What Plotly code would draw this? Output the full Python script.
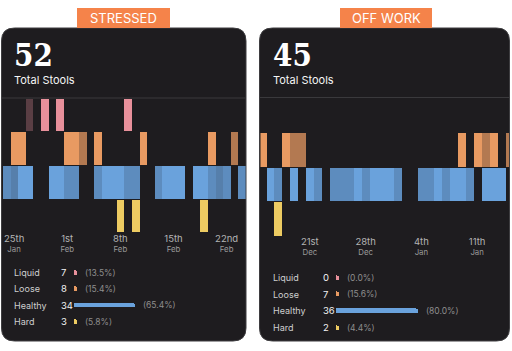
import plotly.graph_objects as go
import pandas as pd

W, H = 512, 351

# ---------------- data ----------------
CATEGORIES = ["Liquid", "Loose", "Healthy", "Hard"]
PANEL_TITLES = ["STRESSED", "OFF WORK"]
TOTALS = [52, 45]
LEFT_COUNTS = [7, 8, 34, 3]
RIGHT_COUNTS = [0, 7, 36, 2]

LEFT_START = "2021-01-24"
RIGHT_START = "2020-12-16"

# day offsets from the panel start date, and shade level (1 faint .. 4 full)
L_LIQUID_DAYS = [3, 5, 7, 16]
L_LIQUID_SHADE = [1, 4, 4, 4]
L_LOOSE_DAYS = [1, 2, 8, 9, 10, 12, 18, 27, 30]
L_LOOSE_SHADE = [4, 4, 4, 4, 2, 4, 4, 4, 2]
L_HEALTHY_DAYS = [0, 1, 2, 3, 6, 7, 8, 9, 12, 13, 14, 15, 16, 17, 20, 21, 22, 23, 25, 26, 27, 28, 29, 31]
L_HEALTHY_SHADE = [3, 2, 4, 4, 4, 4, 3, 3, 3, 4, 4, 4, 3, 3, 3, 4, 4, 4, 4, 4, 3, 2, 3, 3]
L_HARD_DAYS = [15, 17, 26]
L_HARD_SHADE = [4, 4, 4]

R_LIQUID_DAYS = []
R_LIQUID_SHADE = []
R_LOOSE_DAYS = [-1, 2, 3, 4, 24, 26, 27, 28, 30]
R_LOOSE_SHADE = [4, 4, 2, 2, 4, 4, 2, 4, 2]
R_HEALTHY_DAYS = [0, 1, 3, 5, 6, 8, 9, 10, 11, 12, 13, 14, 15, 16, 19, 20, 21, 22, 23, 24, 25, 27, 28, 29]
R_HEALTHY_SHADE = [4, 3, 4, 4, 3, 3, 3, 3, 4, 3, 4, 4, 4, 3, 3, 3, 4, 3, 4, 4, 3, 4, 4, 4]
R_HARD_DAYS = [1]
R_HARD_SHADE = [4]

LEFT_TICK_DATES = ["2021-01-25", "2021-02-01", "2021-02-08", "2021-02-15", "2021-02-22"]
LEFT_TICK_DAY = ["25th", "1st", "8th", "15th", "22nd"]
LEFT_TICK_MONTH = ["Jan", "Feb", "Feb", "Feb", "Feb"]
RIGHT_TICK_DATES = ["2020-12-21", "2020-12-28", "2021-01-04", "2021-01-11"]
RIGHT_TICK_DAY = ["21st", "28th", "4th", "11th"]
RIGHT_TICK_MONTH = ["Dec", "Dec", "Jan", "Jan"]

# ---------------- style ----------------
COLORS = {"Liquid": "#E8909B", "Loose": "#E89A62", "Healthy": "#6AA2DC", "Hard": "#EDCB62"}
SHADE_OPACITY = {1: 0.30, 2: 0.74, 3: 0.84, 4: 1.0}
ROW = {"Liquid": 3, "Loose": 2, "Healthy": 1, "Hard": 0}
PANEL_BG = "#1E1C1F"
ORANGE = "#F5834A"
FONT = "Inter"
SERIF = "DejaVu Serif Condensed, DejaVu Serif"


def px(x):
    return x / W


def py(y):
    return 1 - y / H


def rounded_rect(x0, y0, x1, y1, r):
    return " ".join([
        f"M {px(x0 + r)} {py(y0)}", f"L {px(x1 - r)} {py(y0)}",
        f"Q {px(x1)} {py(y0)} {px(x1)} {py(y0 + r)}", f"L {px(x1)} {py(y1 - r)}",
        f"Q {px(x1)} {py(y1)} {px(x1 - r)} {py(y1)}", f"L {px(x0 + r)} {py(y1)}",
        f"Q {px(x0)} {py(y1)} {px(x0)} {py(y1 - r)}", f"L {px(x0)} {py(y0 + r)}",
        f"Q {px(x0)} {py(y0)} {px(x0 + r)} {py(y0)}", "Z"])


fig = go.Figure()

DAY_MS = 86400000


def add_rows(start, series, xa, ya):
    t0 = pd.Timestamp(start)
    for cat, (days, shades) in series.items():
        if not days:
            continue
        xs = [t0 + pd.Timedelta(days=d, hours=12) for d in days]
        fig.add_trace(go.Bar(
            x=xs, y=[0.97] * len(days), base=[ROW[cat] - 0.485] * len(days),
            width=DAY_MS, xaxis=xa, yaxis=ya, showlegend=False, hoverinfo="skip",
            marker=dict(color=COLORS[cat], opacity=[SHADE_OPACITY[s] for s in shades],
                        line=dict(width=0))))


add_rows(LEFT_START, {
    "Liquid": (L_LIQUID_DAYS, L_LIQUID_SHADE), "Loose": (L_LOOSE_DAYS, L_LOOSE_SHADE),
    "Healthy": (L_HEALTHY_DAYS, L_HEALTHY_SHADE), "Hard": (L_HARD_DAYS, L_HARD_SHADE)}, "x", "y")
add_rows(RIGHT_START, {
    "Liquid": (R_LIQUID_DAYS, R_LIQUID_SHADE), "Loose": (R_LOOSE_DAYS, R_LOOSE_SHADE),
    "Healthy": (R_HEALTHY_DAYS, R_HEALTHY_SHADE), "Hard": (R_HARD_DAYS, R_HARD_SHADE)}, "x2", "y2")

# legend mini bars
annotations = []


def add_legend(counts, xa, ya, label_x, count_x, full):
    total = sum(counts)
    pcts = [100.0 * c / total for c in counts]
    mx = max(pcts)
    lengths = [max(3.0, full * (p / mx) ** 2) for p in pcts]
    fig.add_trace(go.Bar(
        x=lengths, y=list(range(4)), orientation="h", width=0.3,
        xaxis=xa, yaxis=ya, showlegend=False, hoverinfo="skip",
        marker=dict(color=[COLORS[c] for c in CATEGORIES], cornerradius=2, line=dict(width=0))))
    for i, cat in enumerate(CATEGORIES):
        annotations.append(dict(x=px(label_x), y=i, xref="paper", yref=ya, text=cat,
                                xanchor="left", yanchor="middle", showarrow=False,
                                font=dict(family=FONT, size=9, color="#CFCFCF")))
        annotations.append(dict(x=px(count_x), y=i, xref="paper", yref=ya, text=str(counts[i]),
                                xanchor="left", yanchor="middle", showarrow=False,
                                font=dict(family=FONT, size=9.5, color="#F2F2F2")))
        annotations.append(dict(x=lengths[i] + 6, y=i, xref=xa, yref=ya,
                                text=f"({pcts[i]:.1f}%)",
                                xanchor="left", yanchor="middle", showarrow=False,
                                font=dict(family=FONT, size=8.5, color="#8E8E8E")))


add_legend(LEFT_COUNTS, "x3", "y3", 12, 59, 61)
add_legend(RIGHT_COUNTS, "x4", "y4", 271, 320.5, 82)


def noon(dates):
    return [pd.Timestamp(d) + pd.Timedelta(hours=12) for d in dates]


def ticktext(days, months):
    return [f"<span style='font-size:9.5px;color:#B4B4B4'>{d}</span><br>{m}" for d, m in zip(days, months)]


def time_axis(x0, x1, rng, tv, tt):
    return dict(type="date", domain=[px(x0), px(x1)], range=rng, tickvals=tv, ticktext=tt,
                showgrid=False, zeroline=False, showline=False, ticks="", tickangle=0,
                tickfont=dict(family=FONT, size=7.8, color="#9A9A9A"), fixedrange=True)


def hidden(domain, rng, anchor):
    return dict(domain=domain, range=rng, visible=False, fixedrange=True, anchor=anchor)


lt0 = pd.Timestamp(LEFT_START)
rt0 = pd.Timestamp(RIGHT_START)

shapes = [
    dict(type="path", path=rounded_rect(1.5, 28, 246, 341, 13), xref="paper", yref="paper",
         fillcolor=PANEL_BG, line=dict(color="#3E3D40", width=1), layer="below"),
    dict(type="path", path=rounded_rect(259.5, 28, 509.5, 341, 13), xref="paper", yref="paper",
         fillcolor=PANEL_BG, line=dict(color="#3E3D40", width=1), layer="below"),
    dict(type="line", x0=px(2), x1=px(245.5), y0=py(98), y1=py(98), xref="paper", yref="paper",
         line=dict(color="#3A393C", width=1), layer="below"),
    dict(type="line", x0=px(260), x1=px(509), y0=py(97.5), y1=py(97.5), xref="paper", yref="paper",
         line=dict(color="#3A393C", width=1), layer="below"),
    dict(type="rect", x0=px(77), x1=px(170), y0=py(8), y1=py(28), xref="paper", yref="paper",
         fillcolor=ORANGE, line=dict(width=0), layer="below"),
    dict(type="rect", x0=px(340), x1=px(432), y0=py(8), y1=py(28), xref="paper", yref="paper",
         fillcolor=ORANGE, line=dict(width=0), layer="below"),
]

for i, (cx, ttl) in enumerate(zip([123.5, 386], PANEL_TITLES)):
    annotations.append(dict(x=px(cx), y=py(18.5), xref="paper", yref="paper", text=ttl,
                            showarrow=False, xanchor="center", yanchor="middle",
                            font=dict(family=FONT, size=13, color="white")))
for lx, tot in zip([12, 271], TOTALS):
    annotations.append(dict(x=px(lx), y=py(54.5), xref="paper", yref="paper", text=f"<b>{tot}</b>",
                            showarrow=False, xanchor="left", yanchor="middle",
                            font=dict(family=SERIF, size=31, color="white")))
    annotations.append(dict(x=px(lx), y=py(80), xref="paper", yref="paper", text="Total Stools",
                            showarrow=False, xanchor="left", yanchor="middle",
                            font=dict(family=FONT, size=11, color="#F5F5F5")))

fig.update_layout(
    width=W, height=H, margin=dict(l=0, r=0, t=0, b=0),
    paper_bgcolor="white", plot_bgcolor="rgba(0,0,0,0)",
    barmode="overlay", bargap=0,
    xaxis=time_axis(2.7, 245.6, [lt0, lt0 + pd.Timedelta(days=32)],
                    noon(LEFT_TICK_DATES), ticktext(LEFT_TICK_DAY, LEFT_TICK_MONTH)),
    yaxis=hidden([py(232.8), py(98)], [-0.5, 3.5], "x"),
    xaxis2=time_axis(260.5, 509, [rt0 - pd.Timedelta(days=0.69), rt0 + pd.Timedelta(days=30.5)],
                     noon(RIGHT_TICK_DATES), ticktext(RIGHT_TICK_DAY, RIGHT_TICK_MONTH)),
    yaxis2=hidden([py(236.2), py(97.8)], [-0.5, 3.5], "x2"),
    xaxis3=hidden([px(74), px(174)], [0, 100], "y3"),
    yaxis3=hidden([py(329.9), py(264.3)], [3.5, -0.5], "x3"),
    xaxis4=hidden([px(336), px(436)], [0, 100], "y4"),
    yaxis4=hidden([py(335.8), py(269.4)], [3.5, -0.5], "x4"),
    shapes=shapes, annotations=annotations,
)
fig.update_layout(xaxis=dict(anchor="y"), xaxis2=dict(anchor="y2"))

fig.write_html("out.html")
